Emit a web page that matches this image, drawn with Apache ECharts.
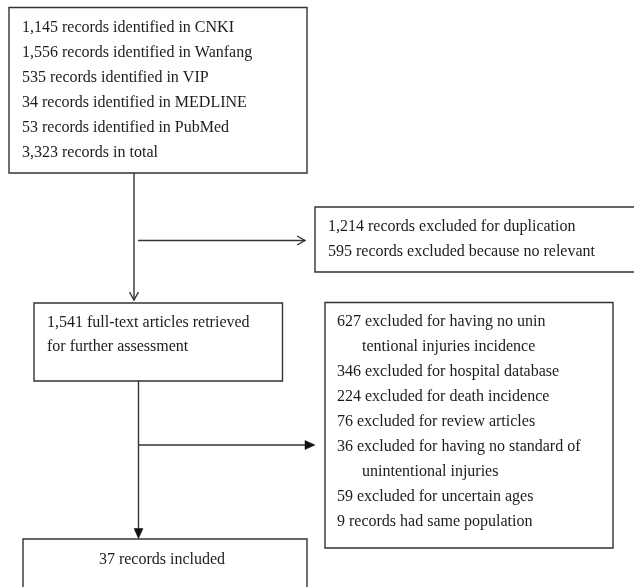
<!DOCTYPE html>
<html>
<head>
<meta charset="utf-8">
<script src="https://cdn.jsdelivr.net/npm/echarts@6/dist/echarts.min.js"></script>
<style>html,body{margin:0;padding:0;background:#fff;}#main{width:634px;height:587px;}</style>
</head>
<body>
<div id="main"></div>
<script>
// ---- Data ----
const sourceDatabases = ['CNKI', 'Wanfang', 'VIP', 'MEDLINE', 'PubMed'];
const sourceCounts = ['1,145', '1,556', '535', '34', '53'];
const totalRecords = '3,323';
const firstExclusionCounts = ['1,214', '595'];
const firstExclusionReasons = ['records excluded for duplication', 'records excluded because no relevant'];
const retrievedCount = '1,541';
const retrievedLines = ['full-text articles retrieved', 'for further assessment'];
const secondExclusionCounts = ['627', '346', '224', '76', '36', '59', '9'];
const secondExclusionReasons = [
  ['excluded for having no unin', 'tentional injuries incidence'],
  ['excluded for hospital database'],
  ['excluded for death incidence'],
  ['excluded for review articles'],
  ['excluded for having no standard of', 'unintentional injuries'],
  ['excluded for uncertain ages'],
  ['records had same population']
];
const includedCount = '37';
const includedLabel = 'records included';

// ---- Layout / style ----
const FONT = '16px "Liberation Serif", "Times New Roman", serif';
const TEXT_COLOR = '#1c1c1c';
const LINE_COLOR = '#333';
const LW = 1.4;
const LINE_H = 25;

const chart = echarts.init(document.getElementById('main'), null, {renderer: 'canvas'});
const elements = [];

function box(x, y, w, h) {
  elements.push({type: 'rect', shape: {x: x, y: y, width: w, height: h},
    style: {fill: '#fff', stroke: LINE_COLOR, lineWidth: LW}, z: 1});
}
function txt(x, y, s, align) {
  elements.push({type: 'text', x: x, y: y, z: 3,
    style: {text: s, font: FONT, fill: TEXT_COLOR, align: align || 'left', verticalAlign: 'middle'}});
}
function line(x1, y1, x2, y2) {
  elements.push({type: 'line', shape: {x1: x1, y1: y1, x2: x2, y2: y2},
    style: {stroke: LINE_COLOR, lineWidth: LW}, z: 2});
}
function openHead(pts) {
  elements.push({type: 'polyline', shape: {points: pts},
    style: {stroke: LINE_COLOR, lineWidth: LW, fill: null}, z: 2});
}
function filledHead(pts) {
  elements.push({type: 'polygon', shape: {points: pts},
    style: {fill: '#111', stroke: '#111', lineWidth: 0.5}, z: 2});
}

// Box 1: identification
box(9, 7.5, 298, 165.5);
const idLines = sourceDatabases.map((db, i) => sourceCounts[i] + ' records identified in ' + db);
idLines.push(totalRecords + ' records in total');
idLines.forEach((s, i) => txt(22, 28 + i * LINE_H, s));

// Arrow down (open head)
line(134, 173, 134, 300);
openHead([[129.5, 292], [134, 300], [138.5, 292]]);
// Arrow right (open head)
line(138, 240.5, 305, 240.5);
openHead([[297, 236], [305, 240.5], [297, 245]]);

// Box: first exclusion (clipped at right edge)
box(315, 207, 340, 65);
firstExclusionCounts.forEach((c, i) => txt(328, 227 + i * LINE_H, c + ' ' + firstExclusionReasons[i]));

// Box 2: retrieved
box(34, 303, 248.5, 78);
txt(47, 323, retrievedCount + ' ' + retrievedLines[0]);
txt(47, 347, retrievedLines[1]);

// Box: second exclusion
box(325, 302.5, 288, 245.5);
let row = 0;
secondExclusionCounts.forEach((c, i) => {
  const r = secondExclusionReasons[i];
  txt(337, 322 + row * LINE_H, c + ' ' + r[0]); row++;
  for (let k = 1; k < r.length; k++) { txt(362, 322 + row * LINE_H, r[k]); row++; }
});

// Arrow down (filled head)
line(138.5, 381, 138.5, 530);
filledHead([[134, 528.5], [143, 528.5], [138.5, 538.5]]);
// Arrow right (filled head)
line(139, 445, 307, 445);
filledHead([[305, 440.5], [315, 445], [305, 449.5]]);

// Box 3: included
box(23, 539, 284, 60);
txt(162, 560, includedCount + ' ' + includedLabel, 'center');

chart.setOption({
  backgroundColor: '#fff',
  animation: false,
  graphic: {elements: elements}
});
</script>
</body>
</html>
